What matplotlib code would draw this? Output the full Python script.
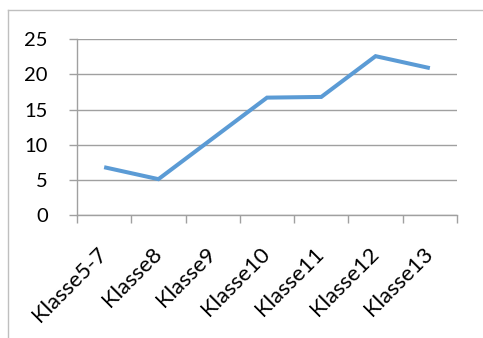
import matplotlib
matplotlib.use("Agg")
import matplotlib.pyplot as plt
from matplotlib.lines import Line2D
from matplotlib.transforms import ScaledTranslation

categories = ["Klasse5-7", "Klasse8", "Klasse9", "Klasse10", "Klasse11", "Klasse12", "Klasse13"]
values = [6.8, 5.1, 10.9, 16.7, 16.8, 22.6, 20.9]
y_ticks = [0, 5, 10, 15, 20, 25]

W, H = 483, 338
fig = plt.figure(figsize=(W / 100, H / 100), dpi=100)
font = "Lato"

ax = fig.add_axes([77 / W, 1 - 215 / H, 380 / W, 175.7 / H])
x = list(range(len(categories)))
ax.plot(x, values, color="#5B9BD5", linewidth=2.9, solid_capstyle="butt", solid_joinstyle="miter", zorder=3)

ax.set_xlim(-0.5, len(categories) - 0.5)
ax.set_ylim(0, 25)
ax.set_yticks(y_ticks)
ax.set_yticklabels([str(v) for v in y_ticks], fontsize=14.5, family=font)
ax.yaxis.grid(True, color="#A0A0A0", linewidth=1.0)
ax.set_axisbelow(True)

# category boundaries carry the tick marks
ax.set_xticks([i - 0.5 for i in range(len(categories) + 1)])
ax.set_xticklabels([])
ax.tick_params(axis="x", length=6, width=1.0, color="#A0A0A0", direction="out")
ax.tick_params(axis="y", length=6, width=1.0, color="#A0A0A0", direction="out", pad=15)

for side in ("top", "right"):
    ax.spines[side].set_visible(False)
for side in ("left", "bottom"):
    ax.spines[side].set_color("#A0A0A0")
    ax.spines[side].set_linewidth(1.0)

# rotated category labels hung below the axis
off = ScaledTranslation(0 / 72, -26 / 72, fig.dpi_scale_trans)
for i, lab in enumerate(categories):
    ax.text(i, 0, lab, transform=ax.get_xaxis_transform() + off,
            rotation=45, rotation_mode="anchor", ha="right", va="center",
            fontsize=16, family=font)

# chart area frame (top and left edges)
fig.add_artist(Line2D([8 / W, 1], [1 - 10 / H, 1 - 10 / H], color="#BFBFBF", linewidth=1.0))
fig.add_artist(Line2D([8 / W, 8 / W], [0, 1 - 10 / H], color="#BFBFBF", linewidth=1.0))

fig.savefig("out.png", dpi=100)
